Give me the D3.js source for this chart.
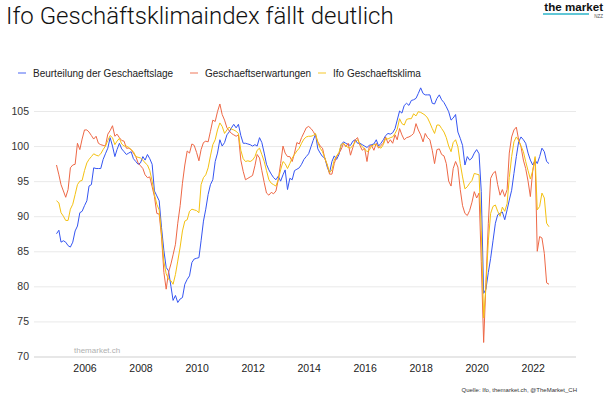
<!DOCTYPE html>
<html>
<head>
<meta charset="utf-8">
<title>Ifo Geschäftsklimaindex</title>
<script src="https://cdn.jsdelivr.net/npm/d3@7"></script>
<style>
body { margin: 0; background: #fff; }
svg text { font-family: "Liberation Sans", Arial, sans-serif; }
</style>
</head>
<body>
<script>
// monthly values, Jan 2005 - Aug 2022 (2015 = 100)
const startYear = 2005;

const lage = [
  87.5, 88.0, 86.3, 86.5, 86.3, 85.8, 85.6, 86.3, 87.9, 88.6, 90.5, 90.7,   // 2005
  91.5, 92.2, 94.3, 94.5, 96.9, 96.8, 96.8, 96.8, 98.1, 98.9, 99.7, 101.2,  // 2006
  100.0, 98.5, 99.5, 100.4, 99.6, 99.2, 98.8, 99.0, 99.2, 98.2, 97.8, 97.4, // 2007
  97.6, 98.5, 98.0, 98.8, 98.2, 97.4, 93.6, 92.9, 92.2, 88.4, 85.1, 82.7,   // 2008
  82.2, 80.0, 78.0, 78.7, 77.7, 78.2, 78.4, 80.3, 81.0, 81.5, 83.4, 83.9,   // 2009
  84.0, 84.1, 86.5, 89.3, 91.0, 93.1, 94.5, 95.2, 97.8, 99.0, 100.9, 100.0, // 2010
  100.5, 101.6, 102.0, 102.6, 103.1, 102.6, 103.1, 101.5, 100.4, 100.4, 100.3, 100.2, // 2011
  100.0, 100.2, 100.0, 101.2, 100.5, 99.0, 97.4, 96.6, 96.0, 95.5, 95.2, 95.7, // 2012
  95.0, 95.9, 96.6, 93.8, 95.4, 95.2, 96.5, 96.7, 96.9, 97.4, 98.1, 98.5,   // 2013
  98.9, 99.9, 100.8, 101.7, 99.6, 99.0, 98.5, 98.3, 97.0, 96.2, 97.8, 98.6, // 2014
  98.1, 98.8, 100.2, 100.6, 100.4, 100.2, 100.1, 100.7, 100.9, 100.4, 100.4, 100.2, // 2015
  100.0, 99.8, 100.1, 100.2, 100.3, 100.9, 100.0, 100.4, 100.9, 101.5, 101.8, 101.7, // 2016
  101.9, 102.5, 103.7, 105.0, 104.7, 105.8, 106.1, 105.8, 106.5, 106.6, 106.8, 107.5, // 2017
  108.3, 107.5, 107.3, 107.3, 107.3, 106.1, 106.0, 106.8, 107.3, 106.6, 106.2, 105.6, // 2018
  104.9, 103.7, 104.0, 104.5, 102.0, 101.1, 100.1, 97.3, 98.5, 98.0, 98.3, 99.0,     // 2019
  99.5, 98.9, 93.5, 79.0, 79.6, 82.0, 84.0, 86.5, 89.0, 90.2, 90.4, 90.6,   // 2020
  89.5, 90.9, 92.3, 93.7, 96.1, 98.5, 100.6, 101.3, 100.9, 100.4, 99.0, 98.0, // 2021
  97.3, 98.0, 97.5, 98.5, 99.7, 99.2, 97.8, 97.5                            // 2022
];

const erwartungen = [
  97.3, 95.9, 94.5, 93.6, 92.7, 93.8, 96.9, 97.3, 97.4, 100.4, 99.5, 101.0, // 2005
  102.3, 102.3, 102.0, 101.5, 101.0, 101.4, 100.4, 100.2, 100.1, 100.0, 101.7, 102.2, // 2006
  102.9, 101.4, 101.7, 101.2, 100.8, 100.7, 99.7, 99.7, 99.5, 99.0, 98.5, 97.6, // 2007
  97.2, 96.8, 95.9, 95.5, 95.6, 94.2, 92.8, 90.4, 90.3, 87.1, 82.0, 79.6,   // 2008
  82.0, 83.2, 84.5, 86.0, 89.0, 91.5, 94.7, 97.3, 99.3, 99.0, 100.3, 100.1, // 2009
  99.1, 97.9, 99.5, 100.5, 100.7, 100.6, 102.1, 103.7, 103.5, 104.9, 106.0, 104.5, // 2010
  103.7, 102.6, 102.2, 101.8, 101.6, 101.4, 101.6, 98.0, 96.4, 95.2, 95.4, 95.6, // 2011
  95.8, 97.2, 98.8, 98.3, 96.5, 94.8, 93.3, 93.0, 93.4, 93.2, 93.6, 95.2,   // 2012
  97.5, 100.0, 99.0, 98.5, 98.5, 97.8, 99.0, 100.5, 100.3, 101.2, 101.9, 102.6, // 2013
  102.8, 102.5, 102.1, 101.5, 100.6, 100.0, 99.7, 98.2, 97.3, 96.0, 96.0, 97.5, // 2014
  98.5, 99.0, 99.5, 100.4, 99.9, 100.4, 98.7, 99.8, 100.9, 101.2, 100.1, 99.4, // 2015
  99.7, 97.8, 99.9, 100.1, 99.4, 100.4, 99.7, 100.1, 100.4, 101.3, 100.4, 100.9, // 2016
  100.4, 101.6, 100.9, 102.5, 101.6, 100.9, 101.2, 101.3, 101.5, 101.8, 103.2, 102.3, // 2017
  101.6, 100.6, 101.8, 101.2, 100.9, 99.4, 97.5, 99.5, 99.6, 98.8, 98.6, 97.5, // 2018
  95.0, 94.3, 96.8, 97.8, 97.0, 93.8, 91.5, 90.4, 90.1, 90.8, 92.0, 93.5,   // 2019
  92.6, 93.3, 83.5, 72.0, 80.5, 89.0, 95.4, 96.1, 96.4, 94.5, 93.0, 93.8,   // 2020
  92.8, 93.8, 99.0, 101.3, 102.3, 102.7, 100.9, 99.9, 98.0, 96.8, 95.0, 92.8, // 2021
  96.5, 98.2, 85.0, 87.1, 86.9, 84.7, 80.5, 80.3                            // 2022
];

const klima = [
  92.2, 91.9, 90.5, 90.0, 89.4, 89.4, 91.0, 91.7, 93.1, 94.5, 95.0, 95.1,   // 2005
  96.5, 97.6, 98.1, 98.5, 98.9, 98.7, 98.6, 98.9, 99.5, 100.0, 100.8, 101.5, // 2006
  101.2, 100.2, 100.7, 101.1, 100.3, 100.0, 100.0, 99.8, 99.5, 99.2, 98.5, 98.4, // 2007
  98.3, 98.0, 97.6, 97.3, 96.5, 95.0, 93.1, 91.7, 90.9, 87.5, 83.5, 81.8,   // 2008
  81.0, 80.8, 80.3, 81.7, 83.6, 85.6, 87.9, 89.3, 89.5, 90.7, 91.0, 90.9,   // 2009
  90.8, 90.5, 94.5, 95.5, 95.9, 96.9, 98.6, 100.2, 100.9, 102.3, 103.3, 102.8, // 2010
  101.8, 102.3, 102.7, 102.4, 102.3, 102.1, 101.8, 99.4, 98.2, 97.8, 97.9, 97.8, // 2011
  98.0, 98.5, 99.4, 99.7, 98.8, 97.8, 96.5, 95.2, 94.7, 94.5, 94.3, 95.2,   // 2012
  96.6, 97.8, 97.5, 96.8, 97.5, 98.3, 98.8, 99.3, 99.7, 100.4, 101.0, 101.3, // 2013
  101.4, 101.4, 101.5, 101.8, 100.5, 99.7, 99.2, 98.3, 97.3, 96.2, 96.6, 98.0, // 2014
  98.6, 99.1, 100.2, 100.4, 100.0, 99.8, 99.7, 100.1, 100.6, 100.9, 100.3, 99.9, // 2015
  99.6, 99.2, 99.4, 100.0, 100.2, 100.2, 99.9, 99.7, 100.2, 101.1, 101.0, 101.2, // 2016
  101.3, 101.8, 102.4, 103.9, 103.2, 103.0, 103.8, 103.9, 103.9, 104.6, 104.3, 104.9, // 2017
  104.8, 104.6, 104.4, 104.0, 103.3, 102.5, 101.8, 103.0, 103.0, 102.5, 102.0, 101.2, // 2018
  100.0, 99.2, 100.5, 100.9, 99.9, 97.5, 95.6, 93.9, 94.2, 94.7, 95.1, 96.1, // 2019
  96.0, 95.9, 88.0, 75.5, 80.0, 86.5, 90.4, 91.4, 91.6, 90.7, 90.0, 91.3,   // 2020
  90.7, 91.8, 95.5, 98.5, 100.6, 101.3, 100.8, 100.0, 99.2, 97.8, 96.5, 95.3, // 2021
  96.5, 98.5, 90.9, 91.4, 93.3, 92.6, 89.0, 88.5                            // 2022
];

const seriesNames = ["Beurteilung der Geschaeftslage", "Geschaeftserwartungen", "Ifo Geschaeftsklima"];
const seriesColors = ["#3555f2", "#ee6846", "#f4c111"];
const yTicks = [70, 75, 80, 85, 90, 95, 100, 105];
const xTickYears = [2006, 2008, 2010, 2012, 2014, 2016, 2018, 2020, 2022];

const W = 608, H = 396;
const gridLeft = 34, gridRight = 576;

const svg = d3.select("body").append("svg")
    .attr("width", W)
    .attr("height", H);

const months = lage.map((d, i) => new Date(startYear, i, 1));

const x = d3.scaleTime()
    .domain([months[0], months[months.length - 1]])
    .range([56.5, 549]);
const y = d3.scaleLinear()
    .domain([70, 105])
    .range([356.5, 111]);

// title + logo
svg.append("text")
    .attr("x", 6).attr("y", 24)
    .style("font-family", "Roboto, 'Liberation Sans', sans-serif")
    .style("font-weight", 300)
    .style("font-size", "24px")
    .attr("fill", "#111")
    .text("Ifo Geschäftsklimaindex fällt deutlich");

svg.append("text")
    .attr("x", 603).attr("y", 11)
    .attr("text-anchor", "end")
    .style("font-weight", "bold")
    .style("font-size", "11.6px")
    .attr("fill", "#111")
    .text("the market");
svg.append("line")
    .attr("x1", 543).attr("x2", 589)
    .attr("y1", 14).attr("y2", 14)
    .attr("stroke", "#2bb3c8").attr("stroke-width", 1.3);
svg.append("text")
    .attr("x", 603).attr("y", 17.5)
    .attr("text-anchor", "end")
    .style("font-size", "4.5px")
    .attr("fill", "#555")
    .text("NZZ");

// legend
const legendX = [18, 190, 318];
const leg = svg.selectAll("g.leg")
    .data(seriesNames)
    .enter().append("g")
    .attr("class", "leg")
    .attr("transform", (d, i) => "translate(" + legendX[i] + ",73)");
leg.append("line")
    .attr("x1", 0).attr("x2", 8)
    .attr("stroke", (d, i) => seriesColors[i])
    .attr("stroke-opacity", 0.45)
    .attr("stroke-width", 2);
leg.append("text")
    .attr("x", 15).attr("y", 3.6)
    .style("font-size", "10px")
    .attr("fill", "#222")
    .text(d => d);

// y grid + labels
const yAxis = svg.append("g")
    .attr("transform", "translate(" + gridLeft + ",0)")
    .call(d3.axisLeft(y).tickValues(yTicks).tickSize(-(gridRight - gridLeft)).tickPadding(5));
yAxis.select(".domain").remove();
yAxis.selectAll(".tick line")
    .attr("stroke", d => d === 70 ? "#cfcfcf" : "#e9e9e9");
yAxis.selectAll(".tick text")
    .style("font-family", "'Liberation Sans', Arial, sans-serif")
    .style("font-size", "10.5px")
    .attr("fill", "#333");

// x labels
const xAxis = svg.append("g")
    .attr("transform", "translate(0,356.5)")
    .call(d3.axisBottom(x)
        .tickValues(xTickYears.map(yr => new Date(yr, 0, 1)))
        .tickFormat(d3.timeFormat("%Y"))
        .tickSize(0).tickPadding(8));
xAxis.select(".domain").remove();
xAxis.selectAll(".tick text")
    .style("font-family", "'Liberation Sans', Arial, sans-serif")
    .style("font-size", "10.5px")
    .attr("fill", "#222");

// watermark
svg.append("text")
    .attr("x", 74).attr("y", 353)
    .style("font-size", "8px")
    .attr("fill", "#b0b0b0")
    .text("themarket.ch");

// lines
const line = d3.line()
    .x((d, i) => x(months[i]))
    .y(d => y(d));

[lage, erwartungen, klima].forEach((s, i) => {
    svg.append("path")
        .datum(s)
        .attr("d", line)
        .attr("fill", "none")
        .attr("stroke", seriesColors[i])
        .attr("stroke-width", 1)
        .attr("stroke-linejoin", "round");
});

// source
svg.append("text")
    .attr("x", 577).attr("y", 392)
    .attr("text-anchor", "end")
    .style("font-size", "6px")
    .attr("fill", "#333")
    .text("Quelle: Ifo,  themarket.ch, @TheMarket_CH");
</script>
</body>
</html>
